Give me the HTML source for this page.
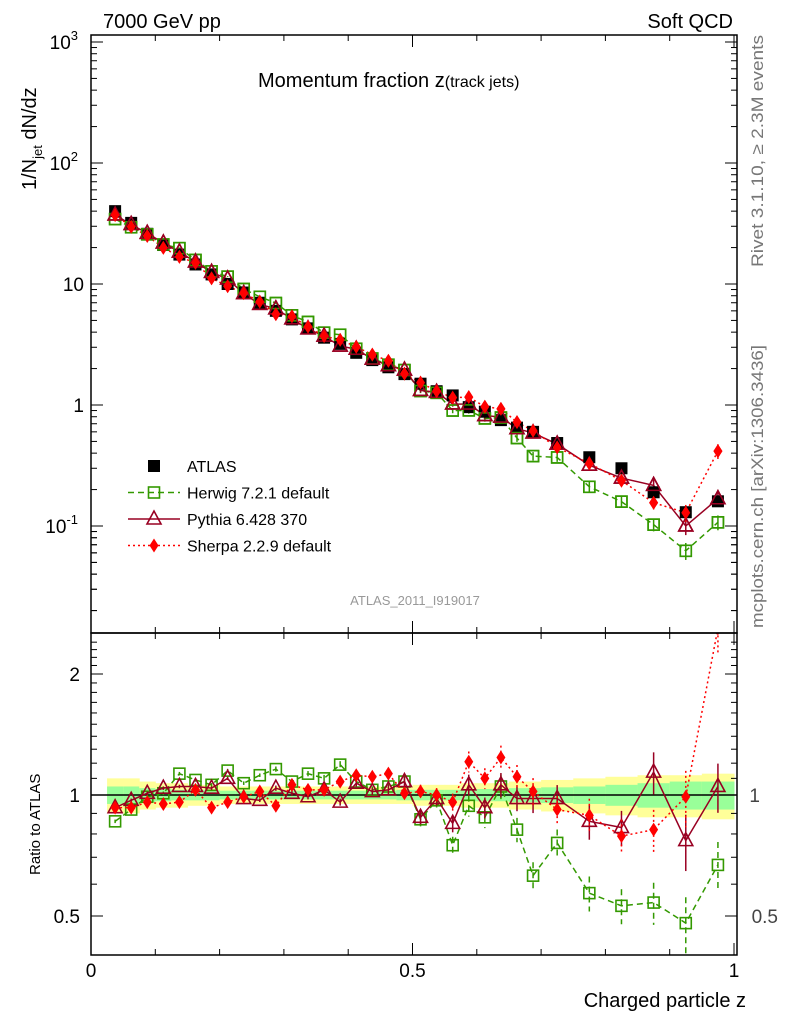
<!DOCTYPE html>
<html><head><meta charset="utf-8"><style>
body{margin:0;background:#fff;font-family:"Liberation Sans",sans-serif}
svg text{font-family:"Liberation Sans",sans-serif}
</style></head><body>
<svg id="c" width="786" height="1024" viewBox="0 0 786 1024" xmlns="http://www.w3.org/2000/svg">
<defs>
<clipPath id="cm"><rect x="91" y="35" width="646" height="598"/></clipPath>
<clipPath id="cr"><rect x="91" y="633" width="646" height="322"/></clipPath>
</defs>
<g id="bands" clip-path="url(#cr)"></g>
<g id="grid"></g>
<g id="mainG" clip-path="url(#cm)"></g>
<g id="ratioG" clip-path="url(#cr)"></g>
<rect x="91" y="35" width="646" height="598" fill="none" stroke="#000" stroke-width="1.5"/>
<rect x="91" y="633" width="646" height="322" fill="none" stroke="#000" stroke-width="1.5"/>
<text x="103" y="28" font-size="20">7000 GeV pp</text>
<text x="733" y="28" font-size="20" text-anchor="end">Soft QCD</text>
<text x="258" y="87" font-size="20">Momentum fraction z<tspan font-size="16">(track jets)</tspan></text>
<text transform="translate(36,190) rotate(-90)" font-size="20">1/N<tspan font-size="13" dy="6">jet</tspan><tspan dy="-6"> dN/dz</tspan></text>
<text transform="translate(40,875) rotate(-90)" font-size="15">Ratio to ATLAS</text>
<text x="746" y="1007" font-size="20" text-anchor="end">Charged particle z</text>
<text transform="translate(763,267) rotate(-90)" font-size="17" fill="#777" textLength="232" lengthAdjust="spacingAndGlyphs">Rivet 3.1.10, ≥ 2.3M events</text>
<text transform="translate(763,628) rotate(-90)" font-size="17" fill="#777" textLength="283" lengthAdjust="spacingAndGlyphs">mcplots.cern.ch [arXiv:1306.3436]</text>
<text x="415" y="605" font-size="13" fill="#999" text-anchor="middle">ATLAS_2011_I919017</text>
<g id="legend"></g>
</svg>
<script>
const zVals=[0.0375,0.0625,0.0875,0.1125,0.1375,0.1625,0.1875,0.2125,0.2375,0.2625,0.2875,0.3125,0.3375,0.3625,0.3875,0.4125,0.4375,0.4625,0.4875,0.5125,0.5375,0.5625,0.5875,0.6125,0.6375,0.6625,0.6875,0.725,0.775,0.825,0.875,0.925,0.975];
const atlasVals=[40,32,26,21,17.5,14.5,12,10,8.5,7.0,6.0,5.1,4.3,3.6,3.2,2.7,2.35,2.05,1.8,1.5,1.3,1.2,0.96,0.88,0.75,0.65,0.6,0.485,0.37,0.30,0.19,0.13,0.16];
const herwigRatio=[0.86,0.92,0.99,1.01,1.13,1.09,1.06,1.15,1.07,1.12,1.16,1.08,1.13,1.10,1.19,1.08,1.03,1.05,1.08,0.87,0.97,0.75,0.94,0.88,1.05,0.82,0.63,0.76,0.57,0.53,0.54,0.48,0.67];
const pythiaRatio=[0.93,0.97,1.01,1.04,1.05,1.05,1.04,1.10,0.98,0.97,1.04,1.01,0.99,1.03,0.96,1.07,1.02,1.03,1.08,0.88,0.98,0.85,1.06,0.93,1.06,0.98,0.98,0.98,0.86,0.83,1.14,0.77,1.05];
const sherpaRatio=[0.93,0.93,0.96,0.95,0.96,1.03,0.93,0.96,0.99,1.02,0.94,1.06,1.03,1.03,1.08,1.12,1.11,1.13,1.01,1.02,1.0,0.96,1.21,1.10,1.24,1.11,1.02,0.92,0.89,0.79,0.82,0.99,2.6];
const modelErr=[0.01,0.01,0.01,0.01,0.01,0.01,0.01,0.01,0.01,0.01,0.015,0.015,0.015,0.02,0.02,0.02,0.02,0.03,0.03,0.04,0.04,0.05,0.06,0.06,0.07,0.07,0.08,0.08,0.1,0.1,0.12,0.16,0.14];
const bandYellow=[0.10,0.10,0.08,0.07,0.07,0.06,0.06,0.05,0.05,0.05,0.05,0.05,0.05,0.05,0.05,0.05,0.05,0.05,0.05,0.06,0.06,0.06,0.07,0.07,0.07,0.08,0.08,0.09,0.10,0.11,0.12,0.12,0.13];
const bandGreen=[0.05,0.05,0.04,0.035,0.03,0.03,0.03,0.025,0.025,0.025,0.025,0.025,0.025,0.025,0.025,0.025,0.025,0.025,0.03,0.03,0.03,0.03,0.035,0.035,0.035,0.04,0.04,0.045,0.05,0.06,0.07,0.08,0.08];
const binLo=[0.025,0.05,0.075,0.1,0.125,0.15,0.175,0.2,0.225,0.25,0.275,0.3,0.325,0.35,0.375,0.4,0.425,0.45,0.475,0.5,0.525,0.55,0.575,0.6,0.625,0.65,0.675,0.7,0.75,0.8,0.85,0.9,0.95];
const binHi=[0.05,0.075,0.1,0.125,0.15,0.175,0.2,0.225,0.25,0.275,0.3,0.325,0.35,0.375,0.4,0.425,0.45,0.475,0.5,0.525,0.55,0.575,0.6,0.625,0.65,0.675,0.7,0.75,0.8,0.85,0.9,0.95,1.0];
const yTickExp=[-1,0,1,2,3];
const xTicks=[0,0.5,1];
const rTicks=[0.5,1,2];

const NS="http://www.w3.org/2000/svg";
const X=z=>91+z*643;
const Y=v=>405-121*Math.log10(v);
const R=r=>795-121*Math.log2(r);
function mk(t,a,p){const e=document.createElementNS(NS,t);for(const k in a)e.setAttribute(k,a[k]);(p||document.getElementById('c')).appendChild(e);return e;}
const bands=document.getElementById('bands'),grid=document.getElementById('grid'),mg=document.getElementById('mainG'),rg=document.getElementById('ratioG'),lg=document.getElementById('legend');

zVals.forEach((z,i)=>{
 let e=mk('rect',{x:X(binLo[i]),y:R(1+bandYellow[i]),width:X(binHi[i])-X(binLo[i])+0.5,height:R(1-bandYellow[i])-R(1+bandYellow[i]),fill:'#ffff99'},bands);
 
 e=mk('rect',{x:X(binLo[i]),y:R(1+bandGreen[i]),width:X(binHi[i])-X(binLo[i])+0.5,height:R(1-bandGreen[i])-R(1+bandGreen[i]),fill:'#99ff99'},bands);
 
});
mk('line',{x1:91,x2:737,y1:R(1),y2:R(1),stroke:'#000','stroke-width':1.5},bands);

for(const ex of yTickExp){
 const y=Y(Math.pow(10,ex));
 mk('line',{x1:91,x2:103,y1:y,y2:y,stroke:'#000'},grid);mk('line',{x1:725,x2:737,y1:y,y2:y,stroke:'#000'},grid);
 let t;
 if(ex===0||ex===1){t=mk('text',{x:84,y:y+7,'font-size':19,'text-anchor':'end'},grid);t.textContent=ex===0?'1':'10';}
 else{t=mk('text',{x:78,y:y+7,'font-size':19,'text-anchor':'end'},grid);t.textContent='10';const s=mk('tspan',{dy:-9,'font-size':13},t);s.textContent=ex;mk('tspan',{dy:9},t);}
 
 for(let m=2;m<10;m++){const yy=Y(m*Math.pow(10,ex-1));if(yy>35&&yy<633){mk('line',{x1:91,x2:97,y1:yy,y2:yy,stroke:'#000'},grid);mk('line',{x1:731,x2:737,y1:yy,y2:yy,stroke:'#000'},grid);}}
}
for(let m=2;m<10;m++){const yy=Y(m*1e-2);if(yy<633){mk('line',{x1:91,x2:97,y1:yy,y2:yy,stroke:'#000'},grid);mk('line',{x1:731,x2:737,y1:yy,y2:yy,stroke:'#000'},grid);}}
for(let v=0;v<=1.0001;v+=0.1){const x=X(v),big=Math.abs(v*2-Math.round(v*2))<1e-6;const L=big?12:6;
 mk('line',{x1:x,x2:x,y1:633,y2:633-L,stroke:'#000'},grid);mk('line',{x1:x,x2:x,y1:955,y2:955-L,stroke:'#000'},grid);mk('line',{x1:x,x2:x,y1:35,y2:35+L,stroke:'#000'},grid);mk('line',{x1:x,x2:x,y1:633,y2:633+L,stroke:'#000'},grid);}
xTicks.forEach(v=>{const t=mk('text',{x:X(v),y:977,'font-size':19,'text-anchor':'middle'},grid);t.textContent=String(v);});
for(let r=0.5;r<=2.5;r+=0.1){const y=R(r);if(y>633&&y<955){const big=[0.5,1,2].some(q=>Math.abs(q-r)<1e-6);const L=big?12:6;mk('line',{x1:91,x2:91+L,y1:y,y2:y,stroke:'#000'},grid);mk('line',{x1:737-L,x2:737,y1:y,y2:y,stroke:'#000'},grid);}}
rTicks.forEach(r=>{const t=mk('text',{x:80,y:R(r)+7,'font-size':19,'text-anchor':'end'},grid);t.textContent=String(r);
 if(r<2){const t2=mk('text',{x:r===1?760:778,y:R(r)+7,'font-size':19,'text-anchor':'end',fill:'#444'},grid);t2.textContent=String(r);}});

function marker(type,x,y,g,col){
 if(type==='sq')return mk('rect',{x:x-5.5,y:y-5.5,width:11,height:11,fill:'none',stroke:col,'stroke-width':1.6},g);
 if(type==='fsq')return mk('rect',{x:x-6,y:y-6,width:12,height:12,fill:'#000'},g);
 if(type==='tri')return mk('polygon',{points:`${x},${y-8} ${x-7},${y+5} ${x+7},${y+5}`,fill:'none',stroke:col,'stroke-width':1.6},g);
 return mk('polygon',{points:`${x},${y-7} ${x-4.5},${y} ${x},${y+7} ${x+4.5},${y}`,fill:col},g);
}
const series=[
 {r:herwigRatio,col:'#339900',dash:'6,4',m:'sq',name:'herwig'},
 {r:pythiaRatio,col:'#990022',dash:'',m:'tri',name:'pythia'},
 {r:sherpaRatio,col:'#ff0000',dash:'2,3',m:'dia',name:'sherpa'}];
series.forEach(s=>{
 const mp=zVals.map((z,i)=>X(z)+','+Y(atlasVals[i]*s.r[i])).join(' ');
 let e=mk('polyline',{points:mp,fill:'none',stroke:s.col,'stroke-width':1.5,'stroke-dasharray':s.dash},mg);
 
 const rp=zVals.map((z,i)=>X(z)+','+R(s.r[i])).join(' ');
 e=mk('polyline',{points:rp,fill:'none',stroke:s.col,'stroke-width':1.5,'stroke-dasharray':s.dash},rg);
 
 zVals.forEach((z,i)=>{
  const x=X(z),v=atlasVals[i]*s.r[i],er=modelErr[i];
  mk('line',{x1:x,x2:x,y1:R(s.r[i]*(1+er)),y2:R(s.r[i]*(1-er)),stroke:s.col,'stroke-width':1.5,'stroke-dasharray':s.dash},rg);
  mk('line',{x1:x,x2:x,y1:Y(v*(1+er)),y2:Y(v*(1-er)),stroke:s.col,'stroke-width':1.5},mg);
  let p=marker(s.m,x,Y(v),mg,s.col);
  p=marker(s.m,x,R(s.r[i]),rg,s.col);
 });
});
zVals.forEach((z,i)=>{const p=marker('fsq',X(z),Y(atlasVals[i]),mg);});
series.forEach(s=>{zVals.forEach((z,i)=>{const p=marker(s.m,X(z),Y(atlasVals[i]*s.r[i]),mg,s.col);});});

const leg=[['fsq','#000','','ATLAS'],['sq','#339900','6,4','Herwig 7.2.1 default'],['tri','#990022','','Pythia 6.428 370'],['dia','#ff0000','2,3','Sherpa 2.2.9 default']];
leg.forEach((l,k)=>{const y=466+k*26.5;
 const g=mk('g',{},lg);
 if(k>0)mk('line',{x1:128,x2:180,y1:y,y2:y,stroke:l[1],'stroke-width':1.5,'stroke-dasharray':l[2]},g);
 marker(l[0],154,y,g,l[1]);
 const t=mk('text',{x:187,y:y+6,'font-size':16},g);t.textContent=l[3];});
</script>
</body></html>
